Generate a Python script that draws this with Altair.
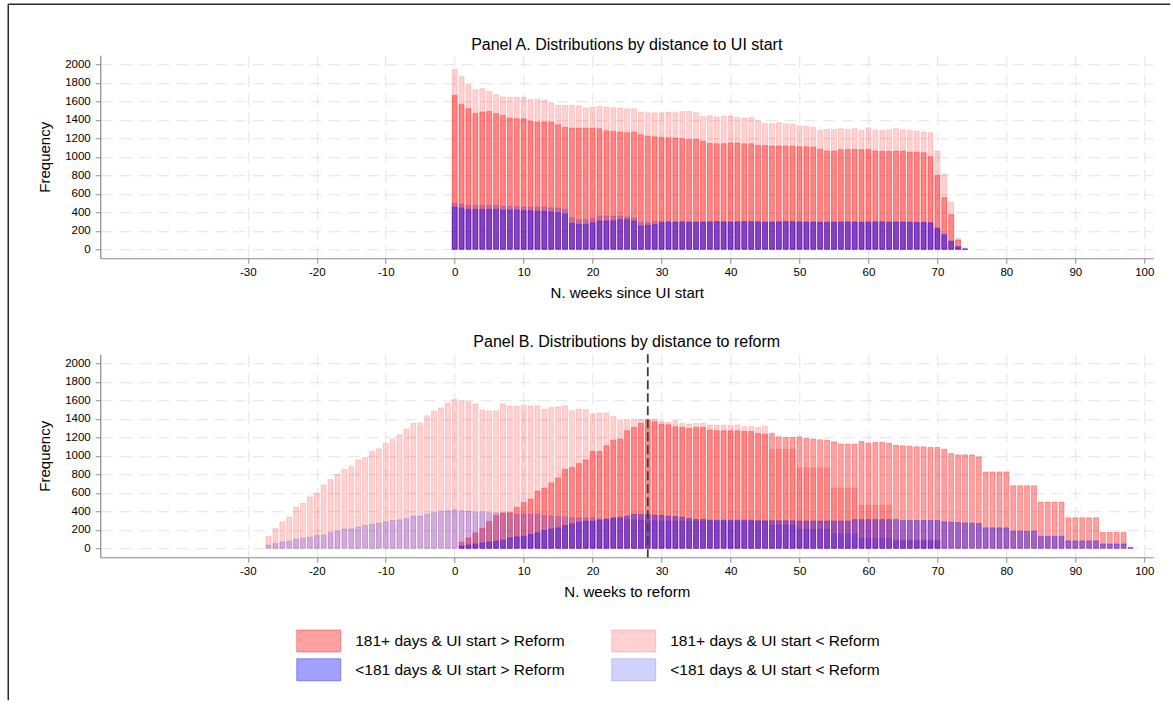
import altair as alt
import pandas as pd

FONT = "Liberation Sans"

# Series names; legend reads row by row in two columns
LONG_AFTER = "181+ days & UI start > Reform"
LONG_BEFORE = "181+ days & UI start < Reform"
SHORT_AFTER = "<181 days & UI start > Reform"
SHORT_BEFORE = "<181 days & UI start < Reform"
SERIES = [LONG_AFTER, SHORT_AFTER, LONG_BEFORE, SHORT_BEFORE]
FILLS = [
    "rgba(255,0,0,0.37)",
    "rgba(0,0,255,0.37)",
    "rgba(255,0,0,0.18)",
    "rgba(0,0,255,0.18)",
]

X_TICKS = list(range(-30, 101, 10))
Y_TICKS = list(range(0, 2001, 200))
X_DOMAIN = [-51.4, 101.3]
Y_DOMAIN = [-97, 2100]
REFORM_WEEK = 28

# ---- Panel A: weekly counts by weeks since UI start (weeks 0..74) ----
A_START = 0
A_LONG_AFTER = [
    1665, 1568, 1521, 1470, 1485, 1492, 1470, 1449, 1420, 1413,
    1413, 1388, 1377, 1377, 1377, 1348, 1319, 1312, 1312, 1312,
    1312, 1305, 1283, 1276, 1268, 1261, 1268, 1240, 1225, 1218,
    1211, 1207, 1204, 1197, 1189, 1189, 1168, 1146, 1142, 1142,
    1150, 1150, 1142, 1142, 1124, 1124, 1117, 1117, 1117, 1117,
    1110, 1110, 1106, 1081, 1063, 1063, 1078, 1081, 1081, 1078,
    1081, 1063, 1060, 1060, 1063, 1063, 1052, 1052, 1045, 1002,
    800, 559, 375, 100, 0,
]
A_LONG_BEFORE = [
    1946, 1867, 1780, 1726, 1737, 1708, 1672, 1650, 1643, 1643,
    1643, 1622, 1622, 1611, 1586, 1557, 1557, 1557, 1550, 1528,
    1539, 1546, 1539, 1532, 1528, 1521, 1521, 1485, 1477, 1477,
    1478, 1485, 1478, 1492, 1492, 1478, 1438, 1445, 1431, 1438,
    1442, 1427, 1420, 1427, 1391, 1359, 1359, 1370, 1359, 1352,
    1333, 1330, 1319, 1287, 1297, 1297, 1305, 1297, 1305, 1287,
    1315, 1287, 1287, 1294, 1305, 1294, 1287, 1279, 1269, 1261,
    1063, 811, 508, 115, 14,
]
A_SHORT_AFTER = [
    458, 447, 432, 432, 432, 432, 432, 425, 425, 425,
    418, 418, 411, 411, 404, 396, 382, 281, 270, 270,
    288, 306, 306, 310, 321, 321, 306, 252, 260, 267,
    288, 295, 296, 298, 296, 294, 296, 298, 300, 298,
    296, 298, 300, 300, 298, 296, 296, 298, 300, 300,
    298, 296, 296, 294, 294, 296, 296, 298, 296, 294,
    296, 298, 298, 296, 296, 296, 294, 292, 292, 288,
    231, 162, 90, 29, 0,
]
A_SHORT_BEFORE = [
    501, 490, 476, 476, 476, 476, 476, 465, 465, 465,
    458, 458, 458, 458, 447, 447, 432, 342, 321, 321,
    332, 360, 360, 360, 360, 350, 339, 295, 288, 303,
    303, 300, 290, 292, 290, 288, 290, 292, 294, 292,
    290, 292, 294, 294, 292, 290, 290, 292, 294, 294,
    292, 290, 290, 288, 288, 290, 290, 292, 290, 288,
    290, 292, 292, 290, 290, 290, 288, 286, 286, 282,
    220, 150, 80, 25, 5,
]

# ---- Panel B: weekly counts by weeks to reform ----
B_BEFORE_START = -27   # UI start < Reform: weeks -27..70
B_AFTER_START = 1      # UI start > Reform: weeks 1..98
B_LONG_BEFORE = [
    130, 214, 286, 337, 446, 486, 556, 592, 685, 745,
    798, 855, 884, 957, 982, 1047, 1076, 1134, 1177, 1228,
    1290, 1351, 1355, 1435, 1482, 1518, 1572, 1609, 1598, 1587,
    1561, 1496, 1485, 1489, 1561, 1536, 1536, 1547, 1536, 1540,
    1504, 1525, 1529, 1543, 1489, 1507, 1500, 1453, 1464, 1464,
    1427, 1380, 1395, 1395, 1395, 1398, 1398, 1373, 1362, 1380,
    1351, 1344, 1351, 1351, 1333, 1333, 1333, 1333, 1336, 1315,
    1319, 1308, 1319, 1072, 1072, 1072, 1072, 870, 870, 870,
    870, 870, 650, 650, 650, 650, 465, 465, 465, 465,
    465, 90, 90, 90, 90, 90, 90, 90,
]
B_SHORT_BEFORE = [
    33, 51, 69, 76, 98, 109, 120, 138, 141, 170,
    185, 210, 210, 228, 246, 261, 272, 286, 301, 308,
    322, 348, 348, 370, 384, 402, 406, 413, 406, 402,
    395, 395, 384, 384, 377, 377, 370, 370, 366, 366,
    355, 350, 344, 340, 330, 330, 330, 330, 319, 319,
    319, 315, 312, 308, 305, 300, 298, 296, 295, 294,
    294, 293, 293, 292, 292, 292, 291, 291, 290, 290,
    290, 290, 290, 250, 250, 250, 250, 205, 205, 205,
    205, 205, 156, 156, 156, 156, 105, 105, 105, 105,
    105, 80, 80, 80, 80, 80, 80, 80,
]
B_LONG_AFTER = [
    65, 112, 167, 214, 290, 355, 384, 390, 442, 497,
    532, 620, 652, 708, 760, 855, 873, 917, 956, 1047,
    1047, 1109, 1170, 1181, 1272, 1308, 1351, 1388, 1370, 1344,
    1337, 1315, 1308, 1297, 1308, 1308, 1279, 1272, 1272, 1272,
    1272, 1264, 1264, 1243, 1235, 1243, 1206, 1199, 1199, 1206,
    1188, 1181, 1174, 1170, 1152, 1127, 1127, 1127, 1156, 1138,
    1145, 1145, 1138, 1116, 1109, 1105, 1098, 1098, 1091, 1091,
    1072, 1025, 1011, 1011, 1011, 989, 826, 826, 826, 826,
    677, 677, 677, 677, 500, 500, 500, 500, 330, 330,
    330, 330, 330, 172, 172, 172, 172, 0,
]
B_SHORT_AFTER = [
    25, 36, 47, 58, 69, 76, 87, 112, 123, 130,
    149, 167, 192, 210, 221, 246, 264, 283, 293, 293,
    304, 312, 330, 337, 348, 366, 366, 366, 359, 355,
    348, 344, 337, 322, 312, 312, 305, 305, 305, 305,
    305, 305, 305, 298, 298, 298, 298, 298, 298, 295,
    295, 295, 295, 295, 295, 295, 295, 310, 310, 310,
    310, 310, 310, 310, 300, 300, 300, 300, 300, 300,
    286, 282, 278, 275, 272, 268, 221, 221, 221, 221,
    185, 185, 185, 185, 130, 130, 130, 130, 80, 80,
    80, 80, 80, 47, 47, 47, 47, 11,
]


def long_table(parts):
    """parts: (series, first week, counts) in drawing order (later on top)."""
    rows = []
    for name, start, counts in parts:
        for i, v in enumerate(counts):
            rows.append({"week": start + i, "series": name, "count": v})
    return pd.DataFrame(rows)


panel_a_data = long_table([
    (LONG_BEFORE, A_START, A_LONG_BEFORE),
    (LONG_AFTER, A_START, A_LONG_AFTER),
    (SHORT_BEFORE, A_START, A_SHORT_BEFORE),
    (SHORT_AFTER, A_START, A_SHORT_AFTER),
])
panel_b_data = long_table([
    (LONG_BEFORE, B_BEFORE_START, B_LONG_BEFORE),
    (LONG_AFTER, B_AFTER_START, B_LONG_AFTER),
    (SHORT_BEFORE, B_BEFORE_START, B_SHORT_BEFORE),
    (SHORT_AFTER, B_AFTER_START, B_SHORT_AFTER),
])

color_scale = alt.Scale(domain=SERIES, range=FILLS)
legend = alt.Legend(
    title=None,
    orient="none",
    legendX=196,
    legendY=574,
    columns=2,
    columnPadding=44,
    rowPadding=2,
    symbolType="M-1,-1H3V1H-1Z",
    symbolSize=484,
    symbolStrokeWidth=1,
    labelOffset=36,
    labelLimit=500,
    labelFont=FONT,
    labelFontSize=15.5,
    labelColor="#000",
)

# plain ASCII hyphen for negative week labels
HYPHEN_LABELS = "'' + datum.value"


def histogram_panel(data, title, x_title, title_offset=6, title_dy=0, extra=()):
    bars = (
        alt.Chart(data)
        .transform_calculate(lo="datum.week - 0.36", hi="datum.week + 0.36")
        .mark_bar(strokeWidth=0.8)
        .encode(
            x=alt.X(
                "lo:Q",
                scale=alt.Scale(domain=X_DOMAIN, nice=False, zero=False),
                axis=alt.Axis(values=X_TICKS, title=x_title, titlePadding=8,
                              labelExpr=HYPHEN_LABELS),
            ),
            x2="hi:Q",
            y=alt.Y(
                "count:Q",
                stack=None,
                scale=alt.Scale(domain=Y_DOMAIN, nice=False, zero=False),
                axis=alt.Axis(values=Y_TICKS, title="Frequency", titlePadding=12,
                              labelPadding=5, format="d"),
            ),
            y2=alt.datum(0),
            color=alt.Color("series:N", scale=color_scale, legend=legend),
            stroke=alt.Stroke("series:N", scale=color_scale, legend=legend),
        )
    )
    return alt.layer(bars, *extra).properties(
        width=1053,
        height=203,
        title=alt.TitleParams(
            title, font=FONT, fontSize=16, fontWeight="normal", color="#000",
            anchor="middle", frame="group", offset=title_offset, dy=title_dy,
        ),
    )


# outer frame of the figure (left and top edges)
frame_src = pd.DataFrame({"edge": [0]})
frame_left = alt.Chart(frame_src).mark_rule(color="#2a2a2a", strokeWidth=1.5).encode(
    x=alt.value(-92), y=alt.value(-51), y2=alt.value(645)
)
frame_top = alt.Chart(frame_src).mark_rule(color="#2a2a2a", strokeWidth=1.5).encode(
    x=alt.value(-92), x2=alt.value(1070), y=alt.value(-51)
)

reform_line = alt.Chart(pd.DataFrame({"week": [REFORM_WEEK]})).mark_rule(
    color="#3c3c3c", strokeWidth=1.8, strokeDash=[9, 4]
).encode(x="week:Q")

panel_a = histogram_panel(
    panel_a_data, "Panel A. Distributions by distance to UI start",
    "N. weeks since UI start", title_dy=55.5, extra=(frame_left, frame_top),
)
panel_b = histogram_panel(
    panel_b_data, "Panel B. Distributions by distance to reform",
    "N. weeks to reform", title_offset=3, extra=(reform_line,),
)

chart = (
    alt.vconcat(panel_a, panel_b, spacing=96, bounds="flush")
    .resolve_scale(x="independent", y="independent")
    .properties(padding={"left": 7.25, "top": 3.25, "right": 0, "bottom": 0}, background="white")
    .configure_view(stroke=None)
    .configure_axis(
        labelFont=FONT,
        titleFont=FONT,
        labelFontSize=11.5,
        titleFontSize=15,
        titleFontWeight="normal",
        labelColor="#000",
        titleColor="#000",
        domainColor="#8a8a8a",
        domainWidth=1.2,
        tickColor="#8a8a8a",
        tickSize=5,
        labelPadding=3,
        gridColor="#e3e3e3",
        gridDash=[12, 7],
        gridWidth=1,
    )
)

chart.save("out.html", embed_options={"renderer": "svg", "actions": False})
